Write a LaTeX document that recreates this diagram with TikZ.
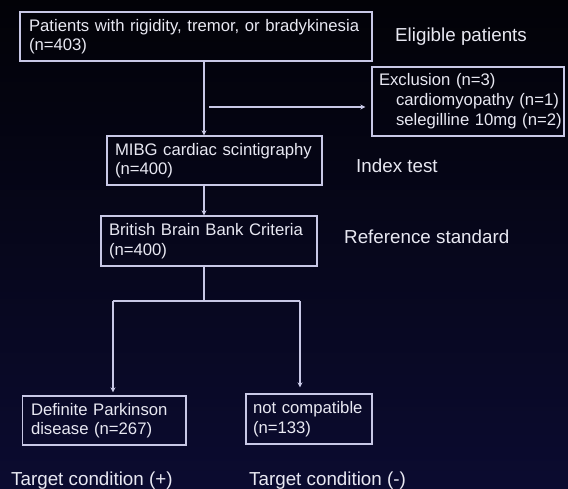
\documentclass[tikz,border=0pt]{standalone}
\usepackage{fontspec}
\setmainfont{Liberation Sans}
\usetikzlibrary{arrows.meta}
\definecolor{bgtop}{HTML}{020207}
\definecolor{bgbot}{HTML}{0B0B30}
\definecolor{ln}{HTML}{C8C8E6}
\definecolor{tx}{HTML}{E8E8F2}
\newcommand\boxfont{\fontsize{16.7}{19.5}\selectfont}
\newcommand\labfont{\fontsize{18.8}{22}\selectfont}
\begin{document}
\begin{tikzpicture}[x=1pt,y=-1pt]
\tikzset{
  box/.style={draw=ln, line width=1.3pt, text=tx, align=left, inner ysep=0pt, font=\boxfont},
  lab/.style={text=tx, font=\labfont, inner sep=0pt, anchor=base west},
  conn/.style={draw=ln, line width=1.3pt},
  arr/.style={conn, -{Stealth[length=5pt,width=5pt]}}
}
\useasboundingbox (0,0) rectangle (568,488);
\shade[top color=bgtop, bottom color=bgbot] (0,0) rectangle (568,488);

\node[box, minimum width=352pt, minimum height=49pt, inner xsep=9pt, text width=334pt] (b1) at (196,36.5)
  {Patients with rigidity, tremor, or bradykinesia\\(n=403)};
\node[box, minimum width=192pt, minimum height=69pt, inner xsep=2pt, text width=188pt, font=\fontsize{16.7}{20}\selectfont] (excl) at (468,101.5)
  {\hspace*{5pt}Exclusion (n=3)\\\hspace*{22pt}cardiomyopathy (n=1)\\\hspace*{22pt}selegilline 10mg (n=2)};
\node[box, minimum width=215pt, minimum height=49pt, inner xsep=8pt, text width=199pt] (mibg) at (214.5,160.5)
  {MIBG cardiac scintigraphy\\(n=400)};
\node[box, minimum width=216pt, minimum height=50pt, inner xsep=8pt, text width=200pt] (bbb) at (209,241)
  {British Brain Bank Criteria\\(n=400)};
\node[box, minimum width=163.5pt, minimum height=49pt, inner xsep=8.5pt, text width=146.5pt] (pd) at (104.25,420.5)
  {Definite Parkinson\\disease (n=267)};
\node[box, minimum width=126pt, minimum height=50pt, inner xsep=7pt, text width=112pt] (nc) at (309,419)
  {not compatible\\(n=133)};

\coordinate (sp) at (204,0);
\coordinate (ex0) at (209,107);
\coordinate (split) at (204,301);
\coordinate (lb) at (113,301);
\coordinate (rb) at (300,301);

\draw[arr] (b1.south -| sp) -- (mibg.north -| sp);
\draw[arr] (ex0) -- ([xshift=-6pt]ex0 -| excl.west);
\draw[arr] (mibg.south -| sp) -- (bbb.north -| sp);
\draw[conn] (bbb.south -| sp) -- (split);
\draw[conn] (lb) -- (rb);
\draw[arr] (lb) -- ([yshift=3pt]pd.north -| lb);
\draw[arr] (rb) -- ([yshift=6pt]nc.north -| rb);

\node[lab] (l1) at (395,41) {Eligible patients};
\node[lab] (l2) at (356,172) {Index test};
\node[lab] (l3) at (344,243) {Reference standard};
\node[lab] (l4) at (11,485) {Target condition (+)};
\node[lab] (l5) at (249,485) {Target condition (-)};
\end{tikzpicture}
\end{document}
